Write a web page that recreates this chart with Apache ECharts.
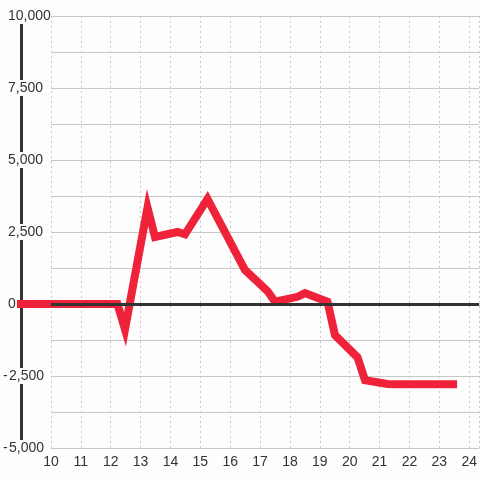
<!DOCTYPE html>
<html><head><meta charset="utf-8">
<script src="https://cdn.jsdelivr.net/npm/echarts@6/dist/echarts.min.js"></script>
<style>html,body{margin:0;padding:0;background:#fdfdfd;}#c{width:480px;height:480px;}</style>
</head><body><div id="c"></div>
<script>
var xValues = [8.9, 12.25, 12.5, 13.25, 13.5, 14.25, 14.5, 15.25, 16.5, 17.25, 17.5, 18.25, 18.5, 19.25, 19.5, 20.25, 20.5, 21.25, 21.5, 22.25, 22.5, 23.25, 23.5, 23.57];
var yValues = [0, 0, -880, 3350, 2330, 2500, 2420, 3650, 1180, 450, 80, 250, 380, 80, -1080, -1850, -2650, -2780, -2790, -2790, -2790, -2790, -2790, -2790];
var yTicks = [-5000, -2500, 0, 2500, 5000, 7500, 10000];
var xTicks = [10, 11, 12, 13, 14, 15, 16, 17, 18, 19, 20, 21, 22, 23, 24];

var seriesData = xValues.map(function (x, i) { return [x, yValues[i]]; });
var chart = echarts.init(document.getElementById('c'), null, {renderer: 'canvas'});
var font = 'Liberation Sans, Arial, sans-serif';
var xMax = 24.3334;
chart.setOption({
  backgroundColor: '#fdfdfd',
  animation: false,
  grid: [
    {left: 50, right: 0, top: 16, bottom: 32, containLabel: false},
    {left: 20, right: 0, top: 16, bottom: 32, containLabel: false}
  ],
  xAxis: [{
    gridIndex: 0, type: 'value', min: 10, max: xMax, interval: 1,
    axisLine: {show: false}, axisTick: {show: false},
    axisLabel: {
      color: '#333', fontSize: 14, fontFamily: font, margin: 7,
      showMaxLabel: false,
      formatter: function (v) { return xTicks.indexOf(v) >= 0 ? String(v) : ''; }
    },
    splitLine: {show: true, lineStyle: {color: '#c8c8c8', type: [2, 3], width: 1}}
  }, {
    gridIndex: 1, type: 'value', min: 9, max: xMax, show: false
  }],
  yAxis: [{
    gridIndex: 0, type: 'value', min: -5000, max: 10000, interval: 1250, offset: 30,
    axisLine: {show: true, lineStyle: {color: '#333', width: 3}},
    axisTick: {show: false},
    axisLabel: {
      color: '#333', fontSize: 14, fontFamily: font, align: 'left', margin: 18,
      backgroundColor: '#fdfdfd', lineHeight: 14, padding: [1, 0, 1, 0],
      formatter: function (v) {
        if (yTicks.indexOf(v) < 0) return '';
        var s = Math.abs(v).toLocaleString('en-US');
        return v < 0 ? '{m|-}' + s : '{sp|}' + s;
      },
      rich: {
        m: {fontSize: 14, fontFamily: font, color: '#333', width: 6, lineHeight: 14},
        sp: {width: 5, lineHeight: 14}
      }
    },
    splitLine: {show: true, lineStyle: {color: '#c8c8c8', width: 1}}
  }, {
    gridIndex: 1, type: 'value', min: -5000, max: 10000, show: false
  }],
  series: [
    {
      type: 'line', data: [], z: 1, silent: true, xAxisIndex: 0, yAxisIndex: 0,
      markLine: {
        silent: true, symbol: 'none', label: {show: false},
        lineStyle: {color: '#333', width: 3, type: 'solid'},
        data: [{yAxis: 0}]
      }
    },
    {
      type: 'line', data: seriesData, z: 3, xAxisIndex: 1, yAxisIndex: 1,
      showSymbol: false, symbol: 'none',
      lineStyle: {color: '#ee2238', width: 8, cap: 'butt', join: 'miter'}
    }
  ]
});
</script></body></html>
